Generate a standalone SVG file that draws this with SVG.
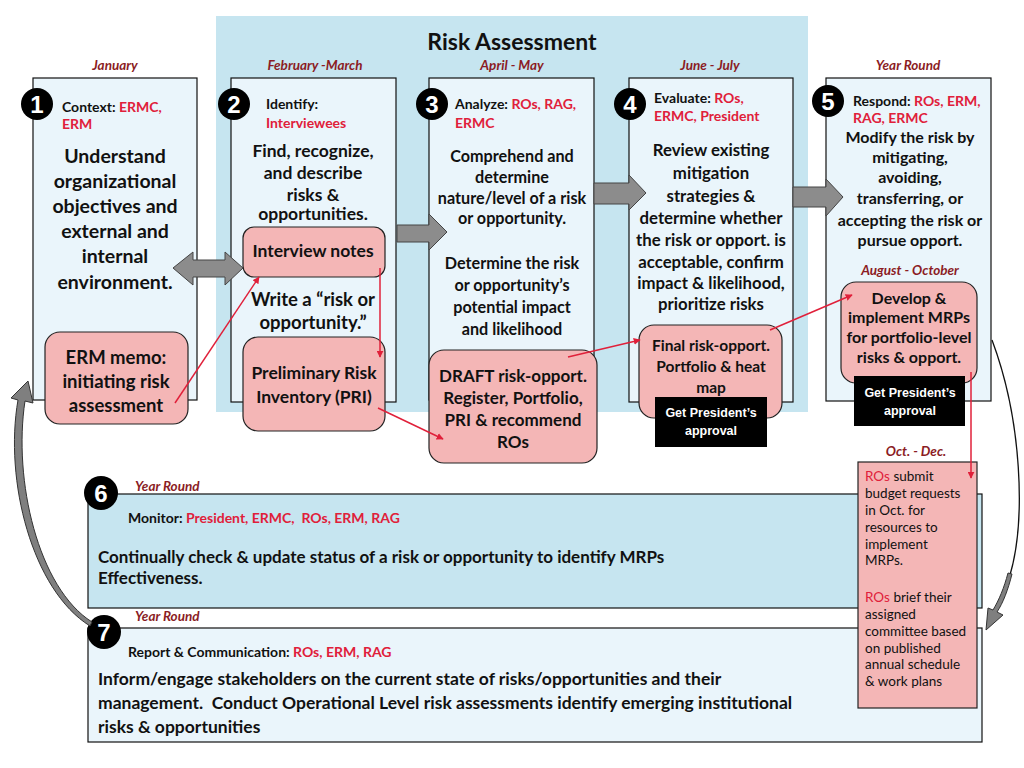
<svg xmlns="http://www.w3.org/2000/svg" width="1024" height="768" viewBox="0 0 1024 768">
<defs>
<style>
text{font-family:Lato,"Liberation Sans",sans-serif;fill:#111;}
.b{font-weight:bold;}
.c{text-anchor:middle;}
.r{fill:#e0203a;}
.m{fill:#8b1c24;font-style:italic;font-weight:bold;font-size:13.5px;}
.h{font-weight:bold;font-size:14px;}
.col{fill:#eaf5fb;stroke:#111;stroke-width:1.2;}
.pink{fill:#f4b6b6;stroke:#222;stroke-width:1.2;}
.blk{fill:#000;}
.w{fill:#fff;font-family:"Liberation Sans",Arial,sans-serif;font-weight:bold;font-size:12.5px;}
.num{fill:#fff;font-family:"Liberation Sans",Arial,sans-serif;font-weight:bold;font-size:24px;text-anchor:middle;}
.gar{fill:#8c8c8c;stroke:#444;stroke-width:1;}
.red{stroke:#e0203a;stroke-width:1.5;fill:none;marker-end:url(#ah);}
</style>
<marker id="ah" viewBox="0 0 10 10" refX="9" refY="5" markerWidth="7" markerHeight="7" orient="auto-start-reverse" markerUnits="userSpaceOnUse">
<path d="M0,0 L10,5 L0,10 z" fill="#e0203a"/>
</marker>
</defs>
<rect width="1024" height="768" fill="#fff"/>
<g id="panel">
<rect x="216" y="16" width="592" height="396" fill="#c6e5f0"/>
<text x="512" y="50" class="b c" font-size="23">Risk Assessment</text>
</g>
<g id="months">
<text x="115" y="70" class="m c">January</text>
<text x="315" y="70" class="m c">February -March</text>
<text x="512" y="70" class="m c">April - May</text>
<text x="710" y="70" class="m c">June - July</text>
<text x="908" y="70" class="m c">Year Round</text>
</g>
<g id="node1">
<rect class="col" x="33" y="78" width="164" height="322"/>
<circle cx="37" cy="104" r="16" class="blk"/>
<text x="37" y="113" class="num">1</text>
<text x="62" y="112" class="h">Context: <tspan class="r">ERMC,</tspan></text>
<text x="62" y="129" class="h r">ERM</text>
<g class="b c" font-size="19.5">
<text x="115" y="163">Understand</text>
<text x="115" y="188">organizational</text>
<text x="115" y="213">objectives and</text>
<text x="115" y="238">external and</text>
<text x="115" y="263">internal</text>
<text x="115" y="289">environment.</text>
</g>
</g>
<g id="node1-memo">
<rect class="pink" x="45" y="332" width="143" height="92" rx="15"/>
<g class="b c" font-size="18.5">
<text x="116" y="364">ERM memo:</text>
<text x="116" y="388">initiating risk</text>
<text x="116" y="412">assessment</text>
</g>
</g>
<g id="node2">
<rect class="col" x="231" y="78" width="165" height="324"/>
<circle cx="234" cy="104" r="16" class="blk"/>
<text x="234" y="113" class="num">2</text>
<text x="266" y="109" class="h">Identify:</text>
<text x="266" y="128" class="h r" font-size="15">Interviewees</text>
<g class="b c" font-size="17.5">
<text x="313" y="157">Find, recognize,</text>
<text x="313" y="179">and describe</text>
<text x="313" y="201">risks &amp;</text>
<text x="313" y="220">opportunities.</text>
</g>
<text x="313" y="306" class="b c" font-size="18.5">Write a “risk or</text>
<text x="313" y="329" class="b c" font-size="18.5">opportunity.”</text>
</g>
<g id="node2-notes">
<rect class="pink" x="243" y="227" width="142" height="50" rx="11"/>
<text x="313" y="257" class="b c" font-size="17.5">Interview notes</text>
</g>
<g id="node2-pri">
<rect class="pink" x="243" y="337" width="142" height="94" rx="15"/>
<text x="314" y="379" class="b c" font-size="17.5">Preliminary Risk</text>
<text x="314" y="403" class="b c" font-size="17.5">Inventory (PRI)</text>
</g>
<g id="node3">
<rect class="col" x="429" y="78" width="165" height="322"/>
<circle cx="432" cy="104" r="16" class="blk"/>
<text x="432" y="113" class="num">3</text>
<text x="455" y="109" class="h">Analyze: <tspan class="r">ROs, RAG,</tspan></text>
<text x="455" y="128" class="h r">ERMC</text>
<g class="b c" font-size="16.2">
<text x="512" y="162">Comprehend and</text>
<text x="512" y="183">determine</text>
<text x="512" y="204">nature/level of a risk</text>
<text x="512" y="224">or opportunity.</text>
<text x="512" y="269">Determine the risk</text>
<text x="512" y="291">or opportunity’s</text>
<text x="512" y="313">potential impact</text>
<text x="512" y="335">and likelihood</text>
</g>
</g>
<g id="node3-draft">
<rect class="pink" x="429" y="350" width="168" height="113" rx="15"/>
<g class="b c" font-size="17">
<text x="513" y="382">DRAFT risk-opport.</text>
<text x="513" y="404">Register, Portfolio,</text>
<text x="513" y="426">PRI &amp; recommend</text>
<text x="513" y="448">ROs</text>
</g>
</g>
<g id="node4">
<rect class="col" x="629" y="78" width="164" height="324"/>
<circle cx="630" cy="104" r="16" class="blk"/>
<text x="630" y="113" class="num">4</text>
<text x="654" y="103" class="h">Evaluate: <tspan class="r">ROs,</tspan></text>
<text x="654" y="121" class="h r">ERMC, President</text>
<g class="b c" font-size="16.8">
<text x="711" y="156">Review existing</text>
<text x="711" y="179">mitigation</text>
<text x="711" y="202">strategies &amp;</text>
<text x="711" y="224">determine whether</text>
<text x="711" y="246">the risk or opport. is</text>
<text x="711" y="268">acceptable, confirm</text>
<text x="711" y="289">impact &amp; likelihood,</text>
<text x="711" y="310">prioritize risks</text>
</g>
</g>
<g id="node4-final">
<rect class="pink" x="639" y="325" width="143" height="93" rx="15"/>
<g class="b c" font-size="15.5">
<text x="711" y="351">Final risk-opport.</text>
<text x="711" y="372">Portfolio &amp; heat</text>
<text x="711" y="393">map</text>
</g>
<rect class="blk" x="655" y="397" width="112" height="50"/>
<text x="711" y="417" class="w c">Get President’s</text>
<text x="711" y="435" class="w c">approval</text>
</g>
<g id="node5">
<rect class="col" x="826" y="78" width="165" height="323"/>
<circle cx="828" cy="101" r="16" class="blk"/>
<text x="828" y="110" class="num">5</text>
<text x="853" y="106" class="h">Respond: <tspan class="r">ROs, ERM,</tspan></text>
<text x="853" y="123" class="h r">RAG, ERMC</text>
<g class="b c" font-size="16">
<text x="910" y="143">Modify the risk by</text>
<text x="910" y="163">mitigating,</text>
<text x="910" y="183">avoiding,</text>
<text x="910" y="204">transferring, or</text>
<text x="910" y="226">accepting the risk or</text>
<text x="910" y="246">pursue opport.</text>
</g>
<text x="910" y="275" class="m c">August - October</text>
</g>
<g id="node5-develop">
<rect class="pink" x="841" y="282" width="136" height="101" rx="15"/>
<g class="b c" font-size="16">
<text x="909" y="304">Develop &amp;</text>
<text x="909" y="323">implement MRPs</text>
<text x="909" y="343">for portfolio-level</text>
<text x="909" y="363">risks &amp; opport.</text>
</g>
<rect class="blk" x="854" y="376" width="111" height="50"/>
<text x="910" y="397" class="w c">Get President’s</text>
<text x="910" y="415" class="w c">approval</text>
</g>
<g id="node6">
<rect x="88" y="494" width="894" height="114" fill="#c6e5f0" stroke="#111" stroke-width="1.2"/>
<circle cx="101" cy="493" r="17" class="blk"/>
<text x="101" y="502" class="num">6</text>
<text x="135" y="491" class="m">Year Round</text>
<text x="128" y="523" class="h" font-size="14.5">Monitor: <tspan class="r">President, ERMC,&#160; ROs, ERM, RAG</tspan></text>
<text x="98" y="563" class="b" font-size="17">Continually check &amp; update status of a risk or opportunity to identify MRPs</text>
<text x="98" y="584" class="b" font-size="17">Effectiveness.</text>
</g>
<g id="node7">
<rect x="88" y="628" width="894" height="114" fill="#eaf5fb" stroke="#111" stroke-width="1.2"/>
<circle cx="104" cy="632" r="17" class="blk"/>
<text x="104" y="641" class="num">7</text>
<text x="135" y="621" class="m">Year Round</text>
<text x="128" y="657" class="h" font-size="14.3">Report &amp; Communication: <tspan class="r">ROs, ERM, RAG</tspan></text>
<text x="98" y="685" class="b" font-size="17.5">Inform/engage stakeholders on the current state of risks/opportunities and their</text>
<text x="98" y="709" class="b" font-size="17.5">management.&#160; Conduct Operational Level risk assessments identify emerging institutional</text>
<text x="98" y="733" class="b" font-size="17.5">risks &amp; opportunities</text>
</g>
<g id="node-octdec">
<text x="916" y="456" class="m c">Oct. - Dec.</text>
<rect class="pink" x="858" y="462" width="119" height="246"/>
<g font-size="13.5">
<text x="865" y="481"><tspan class="r">ROs</tspan> submit</text>
<text x="865" y="498">budget requests</text>
<text x="865" y="515">in Oct. for</text>
<text x="865" y="532">resources to</text>
<text x="865" y="549">implement</text>
<text x="865" y="565">MRPs.</text>
<text x="865" y="602"><tspan class="r">ROs</tspan> brief their</text>
<text x="865" y="619">assigned</text>
<text x="865" y="636">committee based</text>
<text x="865" y="653">on published</text>
<text x="865" y="669">annual schedule</text>
<text x="865" y="686">&amp; work plans</text>
</g>
</g>
<g id="gray-arrows">
<path class="gar" d="M173,268 L193,252 L193,260 L225,260 L225,252 L243,268 L225,285 L225,277 L193,277 L193,285 Z"/>
<path class="gar" d="M397,225 L429,225 L429,214 L447,232 L429,250 L429,242 L397,242 Z"/>
<path class="gar" d="M594,183 L629,183 L629,175 L646,193 L629,210 L629,204 L594,204 Z"/>
<path class="gar" d="M793,187 L826,187 L826,179 L843,197 L826,216 L826,207 L793,207 Z"/>
</g>
<g id="connectors">
<path class="red" d="M175,403 L259,277"/>
<path class="red" d="M380,268 L380,357"/>
<path class="red" d="M378,408 L443,439"/>
<path class="red" d="M568,357 L640,340"/>
<path class="red" d="M770,330 L852,295"/>
<path class="red" d="M971,372 L971,478"/>
<path d="M90,626 C32,590 4,480 18,400 L11,398 L28,381 L33,403 L25,401 C13,480 38,588 92,622 Z" fill="#7f7f7f" stroke="#333" stroke-width="1"/>
<path d="M992,340 C1022,420 1026,520 1010,575" fill="none" stroke="#111" stroke-width="1.3"/>
<path d="M1012,574 C1008,590 1003,603 997,612 L1003,615 L986,630 L988,608 L993,610 C999,600 1004,588 1008,573 Z" fill="#7f7f7f" stroke="#333" stroke-width="1"/>
</g>
</svg>
